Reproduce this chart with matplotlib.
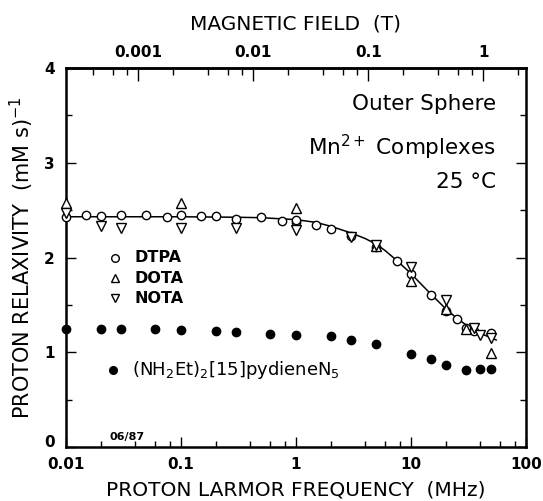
import numpy as np
import matplotlib
matplotlib.use("Agg")
from matplotlib import pyplot as plt
from matplotlib.ticker import FixedLocator, NullFormatter

plt.rcParams['font.family'] = ['DejaVu Sans']
plt.rcParams['mathtext.fontset'] = 'dejavusans'

# data (frequency in MHz, relaxivity in (mM s)^-1)
dtpa_f = [0.01, 0.015, 0.02, 0.03, 0.05, 0.075, 0.1, 0.15, 0.2, 0.3, 0.5, 0.75,
          1.0, 1.0, 1.5, 2, 3, 5, 7.5, 10, 15, 20, 25, 30, 35, 50]
dtpa_r = [2.43, 2.45, 2.44, 2.45, 2.45, 2.43, 2.45, 2.44, 2.44, 2.41, 2.43, 2.38,
          2.37, 2.40, 2.34, 2.30, 2.23, 2.11, 1.96, 1.83, 1.60, 1.44, 1.35, 1.26, 1.22, 1.20]

dota_f = [0.01, 0.1, 1.0, 5, 10, 20, 30, 50]
dota_r = [2.57, 2.57, 2.52, 2.12, 1.75, 1.46, 1.25, 0.99]

nota_f = [0.01, 0.02, 0.03, 0.1, 0.3, 1.0, 3, 5, 10, 20, 35, 40, 50]
nota_r = [2.47, 2.33, 2.31, 2.31, 2.31, 2.29, 2.22, 2.13, 1.90, 1.55, 1.26, 1.18, 1.15]

pyd_f = [0.01, 0.02, 0.03, 0.06, 0.1, 0.2, 0.3, 0.6, 1, 2, 3, 5, 10, 15, 20, 30, 40, 50]
pyd_r = [1.25, 1.25, 1.25, 1.245, 1.23, 1.22, 1.21, 1.19, 1.18, 1.17, 1.13, 1.09,
         0.98, 0.925, 0.87, 0.81, 0.82, 0.82]

# fitted curve
fit_f = [0.01, 0.1, 0.3, 0.5, 0.7, 1, 1.5, 2, 3, 4, 5, 6, 7.5, 10, 12, 15, 20,
         25, 30, 35, 40, 48, 55]
fit_r = [2.43, 2.43, 2.425, 2.42, 2.41, 2.40, 2.37, 2.33, 2.26, 2.20, 2.14, 2.07,
         1.97, 1.83, 1.73, 1.61, 1.46, 1.36, 1.29, 1.24, 1.20, 1.16, 1.13]

GAMMA = 42.58  # MHz per tesla

fig = plt.figure(figsize=(5.43, 5.01), dpi=100)
ax = fig.add_axes([66/543, 54/501, 460/543, 379/501])

ax.plot(fit_f, fit_r, '-', color='black', lw=1.1, zorder=2)
ax.plot(dtpa_f, dtpa_r, 'o', mfc='white', mec='black', ms=6, mew=1.0,
        clip_on=False, zorder=3)
ax.plot(dota_f, dota_r, '^', mfc='white', mec='black', ms=6.5, mew=1.0,
        clip_on=False, zorder=3)
ax.plot(nota_f, nota_r, 'v', mfc='white', mec='black', ms=6.5, mew=1.0,
        clip_on=False, zorder=3)
ax.plot(pyd_f, pyd_r, 'o', color='black', ms=6, clip_on=False, zorder=3)

ax.set_xscale('log')
ax.set_xlim(0.01, 100)
ax.set_ylim(0, 4)

ax.xaxis.set_major_locator(FixedLocator([0.01, 0.1, 1, 10, 100]))
ax.xaxis.set_minor_locator(FixedLocator([m * 10.0**e for e in range(-2, 2) for m in (2, 4, 6, 8)]))
ax.xaxis.set_minor_formatter(NullFormatter())
ax.set_xticklabels(['0.01', '0.1', '1', '10', '100'])
ax.set_yticks([0, 1, 2, 3, 4])
ax.set_yticks(np.arange(0, 4.01, 0.5), minor=True)

for s in ax.spines.values():
    s.set_linewidth(1.8)

ax.tick_params(which='both', direction='in', top=False, right=True, width=1,
               labelsize=11)
ax.tick_params(axis='x', pad=7)
ax.tick_params(axis='y', pad=8)
ax.tick_params(which='major', length=7)
ax.tick_params(which='minor', length=4)
for lab in ax.get_xticklabels() + ax.get_yticklabels():
    lab.set_fontweight('bold')
ax.get_yticklabels()[0].set_verticalalignment('baseline')

top = ax.secondary_xaxis('top', functions=(lambda f: f / GAMMA, lambda b: b * GAMMA))
top.xaxis.set_major_locator(FixedLocator([0.001, 0.01, 0.1, 1]))
top.xaxis.set_minor_locator(FixedLocator([m * 10.0**e for e in range(-4, 1) for m in (2, 4, 6, 8)]))
top.xaxis.set_minor_formatter(NullFormatter())
top.set_xticklabels(['0.001', '0.01', '0.1', '1'])
top.tick_params(which='both', direction='in', width=1, labelsize=11, pad=6)
top.tick_params(which='major', length=9)
top.tick_params(which='minor', length=5)
for lab in top.get_xticklabels():
    lab.set_fontweight('bold')
top.spines['top'].set_linewidth(1.8)
top.set_xlabel('MAGNETIC FIELD  (T)', fontsize=14.5, labelpad=11)

ax.set_xlabel('PROTON LARMOR FREQUENCY  (MHz)', fontsize=14.5, labelpad=6)
ax.set_ylabel('PROTON RELAXIVITY  (mM s)$^{-1}$', fontsize=15, labelpad=6)

ax.text(0.935, 0.905, 'Outer Sphere', transform=ax.transAxes, ha='right',
        va='center', fontsize=15.5)
ax.text(0.935, 0.79, 'Mn$^{2+}$ Complexes', transform=ax.transAxes, ha='right',
        va='center', fontsize=15.5)
ax.text(0.935, 0.70, '25 °C', transform=ax.transAxes, ha='right',
        va='center', fontsize=15.5)

# legend drawn by hand, as in the original
leg_y = [0.50, 0.445, 0.392]
leg_lab = ['DTPA', 'DOTA', 'NOTA']
leg_mk = ['o', '^', 'v']
for yy, lab, mk in zip(leg_y, leg_lab, leg_mk):
    ax.plot([0.107], [yy], mk, mfc='white', mec='black', ms=5.5, mew=1.0,
            transform=ax.transAxes)
    ax.text(0.15, yy, lab, transform=ax.transAxes, va='center', ha='left',
            fontsize=11.5, fontweight='bold')
ax.plot([0.102], [0.203], 'o', color='black', ms=5.5, transform=ax.transAxes)
ax.text(0.143, 0.203, '(NH$_2$Et)$_2$[15]pydieneN$_5$', transform=ax.transAxes,
        va='center', ha='left', fontsize=13)
ax.text(0.095, 0.027, '06/87', transform=ax.transAxes, va='center', ha='left',
        fontsize=8, fontweight='bold')

fig.savefig('out.png', dpi=100)
